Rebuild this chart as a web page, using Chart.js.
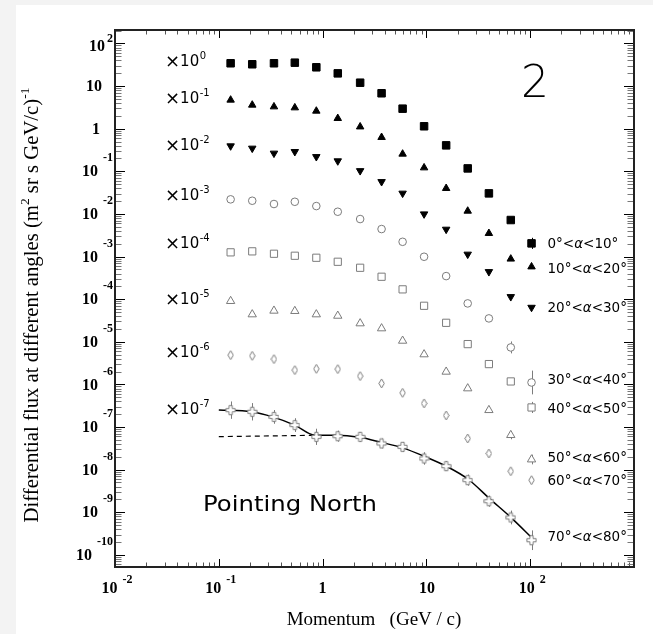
<!DOCTYPE html>
<html><head><meta charset="utf-8">
<script src="https://cdn.jsdelivr.net/npm/chart.js@4.4.1/dist/chart.umd.min.js"></script>
<style>html,body{margin:0;padding:0;background:#f3f3f3;overflow:hidden}#wrap{width:653px;height:634px;position:relative}</style>
</head><body><div id="wrap"><canvas id="c" width="653" height="634"></canvas></div>
<script>
// ---------------- data (values as plotted, i.e. already multiplied by the shown factor) -------------
const momentum = [0.13, 0.21, 0.34, 0.54, 0.87, 1.4, 2.3, 3.7, 5.9, 9.5, 15.5, 25, 40, 65, 103];
const angleBins = ['0°<α<10°', '10°<α<20°', '20°<α<30°', '30°<α<40°', '40°<α<50°', '50°<α<60°', '60°<α<70°', '70°<α<80°'];
const scaleExponents = [0, -1, -2, -3, -4, -5, -6, -7];

const fluxA0 = [34.3, 32.5, 34.3, 35.4, 27.6, 19.9, 12.0, 6.78, 2.95, 1.14, 0.407, 0.117, 0.0304, 0.0072, 0.00204];
const fluxA1 = [4.72, 3.6, 3.28, 3.11, 2.60, 1.75, 1.11, 0.628, 0.255, 0.1215, 0.0399, 0.0117, 0.00351, 0.00088, 0.000577];
const fluxA2 = [0.393, 0.347, 0.265, 0.289, 0.220, 0.175, 0.103, 0.057, 0.0305, 0.00995, 0.00435, 0.00113, 0.00044, 0.000114, 0.000064];
const fluxA3 = [0.0220, 0.0204, 0.0171, 0.0193, 0.0153, 0.01127, 0.00759, 0.00442, 0.00222, 0.00099, 0.000348, 7.96e-5, 3.54e-5, 7.38e-6, 1.11e-6];
const fluxA4 = [1.256e-3, 1.325e-3, 1.164e-3, 1.045e-3, 9.38e-4, 7.55e-4, 5.46e-4, 3.36e-4, 1.70e-4, 7.0e-5, 2.79e-5, 8.83e-6, 3.0e-6, 1.175e-6, 2.88e-7];
const fluxA5 = [9.02e-5, 4.39e-5, 5.35e-5, 5.26e-5, 4.39e-5, 4.07e-5, 2.70e-5, 2.06e-5, 1.055e-5, 5.06e-6, 1.98e-6, 8.05e-7, 2.49e-7, 6.46e-8, 1.73e-8];
const fluxA6 = [4.88e-6, 4.69e-6, 3.93e-6, 2.17e-6, 2.32e-6, 2.29e-6, 1.57e-6, 1.055e-6, 6.35e-7, 3.58e-7, 1.87e-7, 5.40e-8, 2.40e-8, 9.2e-9, 5.68e-9];
const fluxA7 = [2.49e-7, 2.28e-7, 1.73e-7, 1.11e-7, 5.89e-8, 6.1e-8, 5.89e-8, 4.12e-8, 3.43e-8, 1.83e-8, 1.21e-8, 5.68e-9, 1.82e-9, 7.55e-10, 2.21e-10];

// multiplicative error factors (null = no visible bar)
const errA0 = [null, null, null, null, null, null, null, null, null, null, null, null, null, null, 1.35];
const errA3 = [null, null, null, null, null, null, null, null, null, null, null, null, null, 1.38, 1.9];
const errA4 = [null, null, null, null, null, null, null, null, null, null, null, null, null, null, 1.35];
const errA5 = [null, null, null, null, null, null, null, null, null, null, null, null, null, 1.25, 1.3];
const errA7 = [1.6, 1.6, 1.45, 1.45, 1.55, 1.35, 1.3, 1.3, 1.3, 1.4, 1.3, 1.35, 1.35, 1.45, 1.7];

// fitted curve (solid) and low-momentum extrapolation (dashed) for 70°<α<80°
const fitMomentum = [0.1, 0.206, 0.33, 0.537, 0.84, 1.355, 2.27, 3.68, 5.9, 9.6, 15.6, 25.1, 40.6, 65.8, 106];
const fitFlux = [2.51e-7, 2.28e-7, 1.73e-7, 1.11e-7, 6.46e-8, 6.46e-8, 5.75e-8, 4.37e-8, 3.24e-8, 2.04e-8, 1.20e-8, 6.03e-9, 2.09e-9, 7.41e-10, 2.40e-10];
const lowFitMomentum = [0.1, 0.84];
const lowFitFlux = [5.96e-8, 6.4e-8];

const xTickExponents = [-2, -1, 0, 1, 2];
const yTickExponents = [2, 1, 0, -1, -2, -3, -4, -5, -6, -7, -8, -9, -10];

// ---------------- styling ----------------
const GREY = '#7c7c7c';
function makeDiamond() {
  const c = document.createElement('canvas'); c.width = 7; c.height = 11;
  const g = c.getContext('2d');
  g.beginPath(); g.moveTo(3.5, 1); g.lineTo(6.2, 5.5); g.lineTo(3.5, 10); g.lineTo(0.8, 5.5); g.closePath();
  g.fillStyle = '#fff'; g.fill(); g.strokeStyle = GREY; g.lineWidth = 1; g.stroke();
  return c;
}
function makeCross() {
  const c = document.createElement('canvas'); c.width = 11; c.height = 12;
  const g = c.getContext('2d');
  const cx = 5.5, cy = 6, a = 1.6, L = 4.6;
  const pts = [[cx - a, cy - L], [cx + a, cy - L], [cx + a, cy - a], [cx + L, cy - a], [cx + L, cy + a], [cx + a, cy + a],
    [cx + a, cy + L], [cx - a, cy + L], [cx - a, cy + a], [cx - L, cy + a], [cx - L, cy - a], [cx - a, cy - a]];
  g.beginPath(); pts.forEach((p, i) => i ? g.lineTo(p[0], p[1]) : g.moveTo(p[0], p[1])); g.closePath();
  g.fillStyle = '#fff'; g.fill(); g.strokeStyle = GREY; g.lineWidth = 1; g.stroke();
  return c;
}
const series = [fluxA0, fluxA1, fluxA2, fluxA3, fluxA4, fluxA5, fluxA6, fluxA7];
const errors = [errA0, null, null, errA3, errA4, errA5, null, errA7];
const markerStyles = [
  { pointStyle: 'rect', radius: 5.3, rotation: 0, fill: '#000', stroke: '#000', bw: 1 },
  { pointStyle: 'triangle', radius: 4.3, rotation: 0, fill: '#000', stroke: '#000', bw: 1 },
  { pointStyle: 'triangle', radius: 4.3, rotation: 180, fill: '#000', stroke: '#000', bw: 1 },
  { pointStyle: 'circle', radius: 3.8, rotation: 0, fill: '#fff', stroke: GREY, bw: 1 },
  { pointStyle: 'rect', radius: 5.1, rotation: 0, fill: '#fff', stroke: GREY, bw: 1 },
  { pointStyle: 'triangle', radius: 4.8, rotation: 0, fill: '#fff', stroke: GREY, bw: 1 },
  { pointStyle: makeDiamond(), radius: 5, rotation: 0, fill: '#fff', stroke: GREY, bw: 1 },
  { pointStyle: makeCross(), radius: 6, rotation: 0, fill: '#fff', stroke: GREY, bw: 1 }
];
const factorLabelDy = [-1, -1, 0, -3, -8, -1, -2, 0];
const binLabelDy = [1.5, 3, 1, -2, 2.5, -1, 1, -3];

const datasets = series.map((vals, i) => ({
  label: angleBins[i],
  data: momentum.map((m, j) => ({ x: m, y: vals[j] })),
  showLine: false,
  pointStyle: markerStyles[i].pointStyle,
  pointRadius: markerStyles[i].radius,
  pointRotation: markerStyles[i].rotation,
  pointBackgroundColor: markerStyles[i].fill,
  pointBorderColor: markerStyles[i].stroke,
  pointBorderWidth: markerStyles[i].bw,
  pointHoverRadius: markerStyles[i].radius
}));
datasets.push({
  label: 'fit', data: fitMomentum.map((m, j) => ({ x: m, y: fitFlux[j] })),
  showLine: true, pointRadius: 0, borderColor: '#000', borderWidth: 1.5, cubicInterpolationMode: 'monotone'
});
datasets.push({
  label: 'fit low', data: lowFitMomentum.map((m, j) => ({ x: m, y: lowFitFlux[j] })),
  showLine: true, pointRadius: 0, borderColor: '#000', borderWidth: 1.2, borderDash: [5, 4]
});

// ---------------- drawing helpers ----------------
const SERIF = '"Liberation Serif", "Times New Roman", serif';
const SANS = '"DejaVu Sans", sans-serif';

function line(ctx, x1, y1, x2, y2) { ctx.beginPath(); ctx.moveTo(x1, y1); ctx.lineTo(x2, y2); ctx.stroke(); }

const decor = {
  id: 'decor',
  beforeDraw(chart) {
    const ctx = chart.ctx;
    ctx.save();
    ctx.fillStyle = '#f3f3f3'; ctx.fillRect(0, 0, chart.width, chart.height);
    ctx.fillStyle = '#ffffff'; ctx.fillRect(16, 5, chart.width - 16, chart.height - 5);
    ctx.restore();
  },
  beforeDatasetsDraw(chart) {
    const { ctx, scales: { x, y } } = chart;
    ctx.save(); ctx.lineWidth = 1;
    series.forEach((vals, i) => {
      const err = errors[i]; if (!err) return;
      ctx.strokeStyle = markerStyles[i].stroke;
      vals.forEach((v, j) => {
        if (!err[j]) return;
        const px = Math.round(x.getPixelForValue(momentum[j])) + 0.5;
        line(ctx, px, y.getPixelForValue(v * err[j]), px, y.getPixelForValue(v / err[j]));
      });
    });
    ctx.restore();
  },
  afterDraw(chart) {
    const { ctx, chartArea: a, scales: { x, y } } = chart;
    ctx.save();
    // ticks on all four sides, pointing inwards
    ctx.lineWidth = 1;
    for (let e = -2; e <= 2; e++) for (let m = 1; m <= 9; m++) {
      const v = m * Math.pow(10, e); if (v < x.min || v > x.max) continue;
      const px = Math.round(x.getPixelForValue(v)) + 0.5; const major = m === 1;
      ctx.strokeStyle = major ? '#000' : '#555';
      const len = major ? 8 : 4.5;
      line(ctx, px, a.bottom, px, a.bottom - len); line(ctx, px, a.top, px, a.top + len);
    }
    for (let e = -11; e <= 2; e++) for (let m = 1; m <= 9; m++) {
      const v = m * Math.pow(10, e); if (v < y.min || v > y.max) continue;
      const py = Math.round(y.getPixelForValue(v)) + 0.5; const major = m === 1;
      ctx.strokeStyle = major ? '#000' : '#777';
      const len = major ? 10 : 6.5;
      line(ctx, a.left, py, a.left + len, py); line(ctx, a.right, py, a.right - len, py);
    }
    // frame
    ctx.strokeStyle = '#222'; ctx.lineWidth = 2;
    ctx.strokeRect(a.left, a.top, a.right - a.left, a.bottom - a.top);

    // tick labels
    ctx.fillStyle = '#000'; ctx.textBaseline = 'middle';
    const baseFont = 'bold 16px ' + SERIF, expFont = 'bold 12px ' + SERIF;
    yTickExponents.forEach(e => {
      const py = y.getPixelForValue(Math.pow(10, e));
      if (e === 1) { ctx.font = baseFont; ctx.textAlign = 'center'; ctx.fillText('10', 94, py + 1); return; }
      if (e === 0) { ctx.font = baseFont; ctx.textAlign = 'center'; ctx.fillText('1', 96, py + 1); return; }
      const es = String(e);
      ctx.font = expFont; ctx.textAlign = 'right';
      const ew = ctx.measureText(es).width;
      ctx.fillText(es, 113, py - (e > 0 ? 5 : 13));
      ctx.font = baseFont;
      ctx.fillText('10', 113 - ew - (e > 0 ? 2 : 5), py + (e > 0 ? 3 : 1));
    });
    xTickExponents.forEach(e => {
      const px = x.getPixelForValue(Math.pow(10, e));
      const by = 589, ey = 580;
      ctx.font = baseFont; ctx.textAlign = 'center';
      if (e === 0) { ctx.fillText('1', px, by); return; }
      if (e === 1) { ctx.fillText('10', px + 0.5, by); return; }
      const es = String(e);
      const bw = ctx.measureText('10').width;
      ctx.font = expFont; const ew = ctx.measureText(es).width;
      const gap = 5, start = px + 2 - (bw + gap + ew) / 2;
      ctx.textAlign = 'left';
      ctx.fillText(es, start + bw + gap, ey);
      ctx.font = baseFont; ctx.fillText('10', start, by);
    });

    // axis titles
    ctx.textBaseline = 'alphabetic'; ctx.textAlign = 'center';
    ctx.font = '19px ' + SERIF;
    ctx.fillText('Momentum   (GeV / c)', 374, 625);

    ctx.save();
    ctx.translate(38, 305); ctx.rotate(-Math.PI / 2);
    const parts = [['Differential flux at different angles (m', 0], ['2', 1], [' sr s GeV/c)', 0], ['-1', 1]];
    let fs = 18;
    const measure = (size) => parts.reduce((w, p) => { ctx.font = (p[1] ? size * 0.65 : size) + 'px ' + SERIF; return w + ctx.measureText(p[0]).width; }, 0);
    fs = fs * 435 / measure(fs);
    let cx = -measure(fs) / 2; ctx.textAlign = 'left';
    parts.forEach(p => {
      ctx.font = (p[1] ? fs * 0.65 : fs) + 'px ' + SERIF;
      ctx.fillText(p[0], cx, p[1] ? -fs * 0.42 : 0);
      cx += ctx.measureText(p[0]).width;
    });
    ctx.restore();

    // scale-factor labels next to the first point of each series
    ctx.textBaseline = 'middle'; ctx.textAlign = 'left';
    series.forEach((vals, i) => {
      const py = y.getPixelForValue(vals[0]) + factorLabelDy[i];
      ctx.font = '18px ' + SANS;
      ctx.fillText('×', 165, py);
      const wx = ctx.measureText('×').width;
      ctx.font = '15px ' + SANS;
      ctx.fillText('10', 165 + wx, py);
      const w = wx + ctx.measureText('10').width;
      ctx.font = '10px ' + SANS;
      ctx.fillText(String(scaleExponents[i]), 165 + w + 0.5, py - 6);
    });

    // angle-bin labels next to the last point of each series
    series.forEach((vals, i) => {
      const n = vals.length - 1;
      const px = x.getPixelForValue(momentum[n]) + 16;
      const py = y.getPixelForValue(vals[n]) + binLabelDy[i];
      const [pre, post] = angleBins[i].split('α');
      let cx2 = px;
      ctx.font = '13.5px ' + SANS; ctx.fillText(pre, cx2, py); cx2 += ctx.measureText(pre).width;
      ctx.font = 'italic 13.5px ' + SANS; ctx.fillText('α', cx2, py); cx2 += ctx.measureText('α').width;
      ctx.font = '13.5px ' + SANS; ctx.fillText(post, cx2, py);
    });

    // panel texts
    ctx.textBaseline = 'alphabetic';
    ctx.font = '22px ' + SANS;
    const pn = 'Pointing North';
    const pw = ctx.measureText(pn).width;
    ctx.save(); ctx.translate(203, 511); ctx.scale(174 / pw, 1); ctx.fillText(pn, 0, 0); ctx.restore();
    ctx.font = '200 44px ' + SANS; ctx.textAlign = 'center';
    ctx.fillText('2', 535, 97);
    ctx.restore();
  }
};

new Chart(document.getElementById('c'), {
  type: 'scatter',
  data: { datasets },
  options: {
    responsive: false, animation: false, events: [],
    layout: { padding: { left: 115, right: 19, top: 30, bottom: 67 } },
    scales: {
      x: { type: 'logarithmic', min: 0.01, max: 1000, bounds: 'data', display: false },
      y: { type: 'logarithmic', min: 5.2e-11, max: 207, bounds: 'data', display: false }
    },
    plugins: { legend: { display: false }, tooltip: { enabled: false } }
  },
  plugins: [decor]
});
</script></body></html>
